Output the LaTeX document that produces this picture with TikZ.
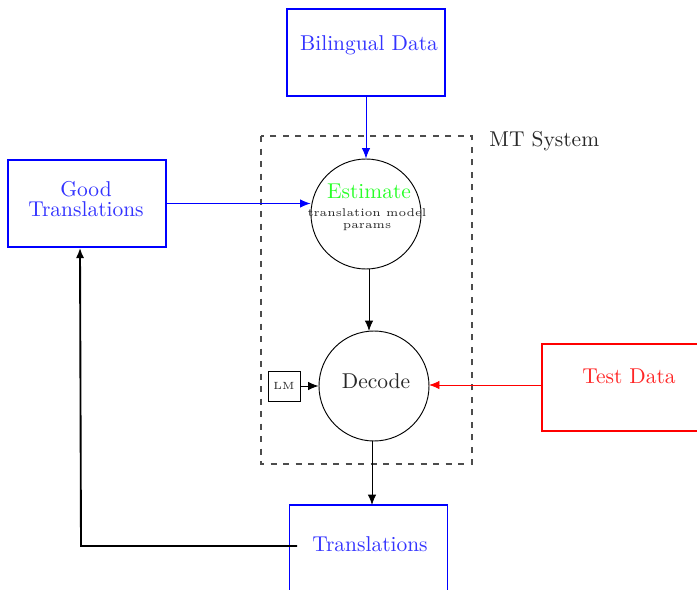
\documentclass[tikz,border=0pt]{standalone}
\usetikzlibrary{arrows.meta}
\definecolor{txtblue}{RGB}{51,51,255}
\definecolor{txtgray}{RGB}{40,40,40}
\definecolor{txtgreen}{RGB}{40,255,40}
\begin{document}
\begin{tikzpicture}[x=0.48pt,y=-0.48pt,
  every node/.style={font=\fontsize{10.3}{12}\selectfont},
  box/.style={draw=#1,line width=0.75pt,minimum width=158*0.48pt,minimum height=87*0.48pt,inner sep=0pt},
  circ/.style={draw=black,circle,line width=0.45pt,minimum size=110*0.48pt,inner sep=0pt},
  arr/.style={-{Latex[length=5pt,width=4pt]},line width=0.4pt}]
\useasboundingbox (0,0) rectangle (697,590);
\clip (0,0) rectangle (697,590);
% boxes
\node[box=blue] (BD) at (366,52.5) {};
\node[text=txtblue] at (369,45) {Bilingual Data};
\node[box=blue] (GT) at (87,203.5) {};
\node[text=txtblue,align=center] at (86,199) {Good\\[-2pt]Translations};
\node[box=red] (TD) at (621,387.5) {};
\node[text=red!85] at (629,376) {Test Data};
\node[box=blue,minimum height=100*0.48pt] (TR) at (368.5,555) {};
\node[text=txtblue] at (370,544) {Translations};
% MT system
\draw[dashed,draw=black!70,line width=0.5pt] (261,136) rectangle (472,464);
\node[text=txtgray,anchor=west] (MT) at (482,141) {MT System};
% circles
\node[circ] (E) at (366,214) {};
\node[text=txtgreen,inner sep=0pt] at (369,191) {Estimate};
\node[text=txtgray,align=center,inner sep=0pt,font=\fontsize{5.4}{5.6}\selectfont] at (367,220) {translation model\\params};
\node[circ] (D) at (374,386) {};
\node[text=txtgray] at (376,381) {Decode};
\node[draw=black,line width=0.4pt,minimum width=32*0.48pt,minimum height=30*0.48pt,inner sep=0pt,font=\fontsize{5}{6}\selectfont,text=txtgray] (LM) at (284,386) {LM};
% connectors
\draw[arr,blue] (BD.south) -- (E.north);
\draw[arr,blue] (GT.east) -- (GT.east -| E.west);
\draw[arr,black] (E.south -| 369,0) -- (369,331);
\draw[arr,black] (LM.east) -- (LM.east -| D.west);
\draw[arr,red] (TD.west |- 0,385) -- (429,385);
\draw[arr,black] (D.south -| 372,0) -- (372,505);
\coordinate (c1) at (297,546);
\draw[arr,line width=0.9pt] (c1) -- (81,546) -- (GT.south -| 80,0);
\end{tikzpicture}
\end{document}
